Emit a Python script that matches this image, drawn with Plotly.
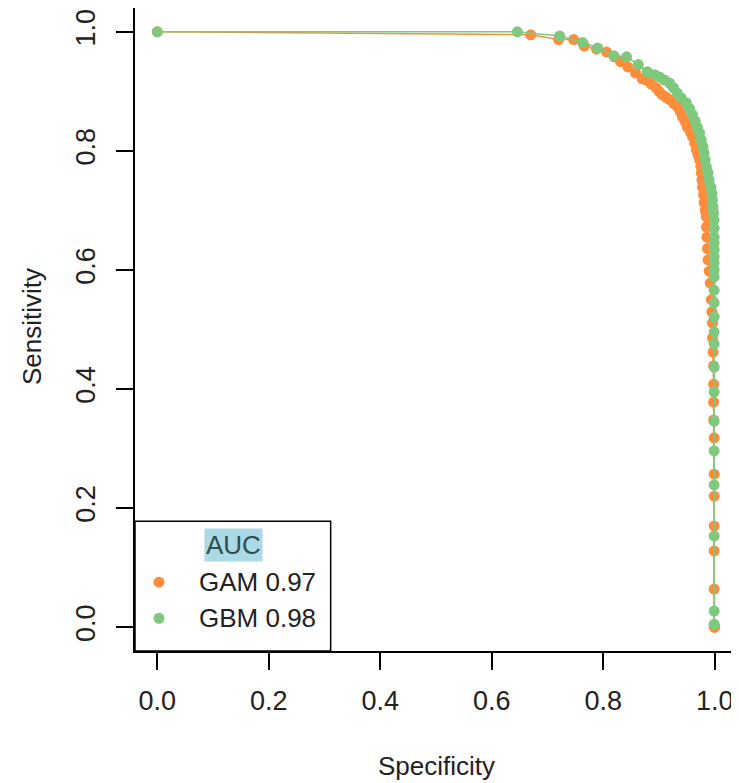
import plotly.graph_objects as go

# GAM (orange) ROC points: specificity, sensitivity
gam_spec = [0.0, 0.670, 0.720, 0.747, 0.766, 0.788, 0.806, 0.820, 0.831, 0.844, 0.858, 0.870,
            0.877, 0.886, 0.895, 0.900, 0.906, 0.913, 0.919, 0.926, 0.933, 0.938, 0.942, 0.947,
            0.951, 0.956, 0.960, 0.964, 0.967, 0.970, 0.973, 0.975, 0.976, 0.977, 0.978, 0.980,
            0.981, 0.983, 0.985, 0.985, 0.986, 0.987, 0.988, 0.990, 0.992, 0.994, 0.995, 0.996,
            0.996, 0.997, 0.998, 0.998, 0.998, 0.998, 0.999, 0.999, 0.999, 0.999, 0.999, 0.999,
            0.999, 0.999, 1.0]
gam_sens = [1.0, 0.995, 0.987, 0.987, 0.976, 0.971, 0.966, 0.958, 0.950, 0.941, 0.931, 0.921,
            0.919, 0.912, 0.906, 0.900, 0.894, 0.890, 0.886, 0.880, 0.874, 0.866, 0.857, 0.849,
            0.840, 0.832, 0.824, 0.813, 0.802, 0.793, 0.785, 0.774, 0.763, 0.751, 0.739, 0.726,
            0.713, 0.700, 0.689, 0.672, 0.655, 0.636, 0.617, 0.598, 0.578, 0.550, 0.530, 0.511,
            0.486, 0.462, 0.439, 0.408, 0.378, 0.348, 0.318, 0.257, 0.220, 0.170, 0.128, 0.064,
            0.003, 0.0, 0.0]

# GBM (green) ROC points: specificity, sensitivity
gbm_spec = [0.0, 0.646, 0.722, 0.763, 0.790, 0.819, 0.842, 0.863, 0.879, 0.892, 0.901, 0.910,
            0.919, 0.926, 0.933, 0.940, 0.949, 0.955, 0.960, 0.965, 0.969, 0.973, 0.976, 0.979,
            0.981, 0.983, 0.985, 0.988, 0.990, 0.993, 0.995, 0.996, 0.997, 0.998, 0.999, 0.999,
            0.999, 0.999, 0.999, 0.999, 0.999, 0.999, 0.999, 0.999, 0.999, 0.999, 0.999, 0.999,
            0.999, 0.999, 0.999, 0.999, 0.999, 0.999, 0.999, 0.999]
gbm_sens = [1.0, 1.0, 0.993, 0.982, 0.973, 0.960, 0.958, 0.945, 0.933, 0.928, 0.924, 0.919,
            0.914, 0.906, 0.897, 0.889, 0.881, 0.871, 0.861, 0.850, 0.840, 0.830, 0.818, 0.807,
            0.797, 0.785, 0.773, 0.763, 0.751, 0.739, 0.729, 0.718, 0.706, 0.696, 0.684, 0.670,
            0.655, 0.645, 0.634, 0.622, 0.612, 0.600, 0.588, 0.566, 0.545, 0.521, 0.496, 0.476,
            0.437, 0.395, 0.346, 0.296, 0.239, 0.153, 0.027, 0.005]

models = ["GAM", "GBM"]
auc_values = [0.97, 0.98]
colors = ["#FD8D3C", "#7FC97F"]
tick_vals = [0.0, 0.2, 0.4, 0.6, 0.8, 1.0]
tick_text = ["0.0", "0.2", "0.4", "0.6", "0.8", "1.0"]

FONT = "Liberation Sans, Arial, Helvetica, sans-serif"
FS = 26

fig = go.Figure()
for spec, sens, name, col in [(gam_spec, gam_sens, models[0], colors[0]),
                              (gbm_spec, gbm_sens, models[1], colors[1])]:
    fig.add_trace(go.Scatter(x=spec, y=sens, mode="lines+markers", name=name,
                             line=dict(color=col, width=1.5),
                             marker=dict(color=col, size=11, line=dict(width=0)),
                             showlegend=False, cliponaxis=False))

axis_common = dict(showline=True, mirror=True, linecolor="black", linewidth=1.5,
                   ticks="outside", ticklen=17, tickwidth=1.5, tickcolor="black",
                   showgrid=False, zeroline=False, range=[-0.04, 1.04], automargin=False,
                   tickvals=tick_vals, ticktext=tick_text,
                   tickfont=dict(family=FONT, size=FS + 1, color="#222222"))

# page body has an 8px margin, so the figure is sized/offset to compensate
fig.update_layout(
    width=731, height=775,
    margin=dict(l=127, r=2, t=0, b=132),
    paper_bgcolor="white", plot_bgcolor="white",
    xaxis=dict(**axis_common, ticklabelstandoff=8),
    yaxis=dict(**axis_common, tickangle=-90, ticklabelstandoff=10),
    font=dict(family=FONT, size=FS, color="#222222"),
)

# Axis titles
fig.add_annotation(text="Specificity", xref="paper", yref="paper", x=0.5, y=-0.179,
                   xanchor="center", yanchor="middle", showarrow=False,
                   font=dict(family=FONT, size=FS, color="#222222"))
fig.add_annotation(text="Sensitivity", xref="paper", yref="paper", x=-0.171, y=0.504,
                   xanchor="center", yanchor="middle", textangle=-90, showarrow=False,
                   font=dict(family=FONT, size=FS, color="#222222"))

# Legend box
fig.add_shape(type="rect", xref="x", yref="y", x0=-0.04, x1=0.311, y0=-0.04, y1=0.178,
              line=dict(color="black", width=1.5), fillcolor="white", layer="above")
fig.add_annotation(text="AUC", xref="x", yref="y", x=0.136, y=0.138, showarrow=False,
                   xanchor="center", yanchor="middle", bgcolor="#ADD8E6",
                   font=dict(family=FONT, size=FS, color="#2F4F4F"), borderpad=1)
legend_y = [0.0756, 0.015]
for i in range(2):
    fig.add_shape(type="circle", xref="x", yref="y", xsizemode="pixel", ysizemode="pixel",
                  xanchor=0.003, yanchor=legend_y[i], x0=-5.5, x1=5.5, y0=-5.5, y1=5.5,
                  fillcolor=colors[i], line=dict(width=0), layer="above")
    fig.add_annotation(text=f"{models[i]} {auc_values[i]:.2f}", xref="x", yref="y",
                       x=0.071, y=legend_y[i], xanchor="left", yanchor="middle",
                       showarrow=False, font=dict(family=FONT, size=FS, color="#222222"))

fig.write_html("out.html")
